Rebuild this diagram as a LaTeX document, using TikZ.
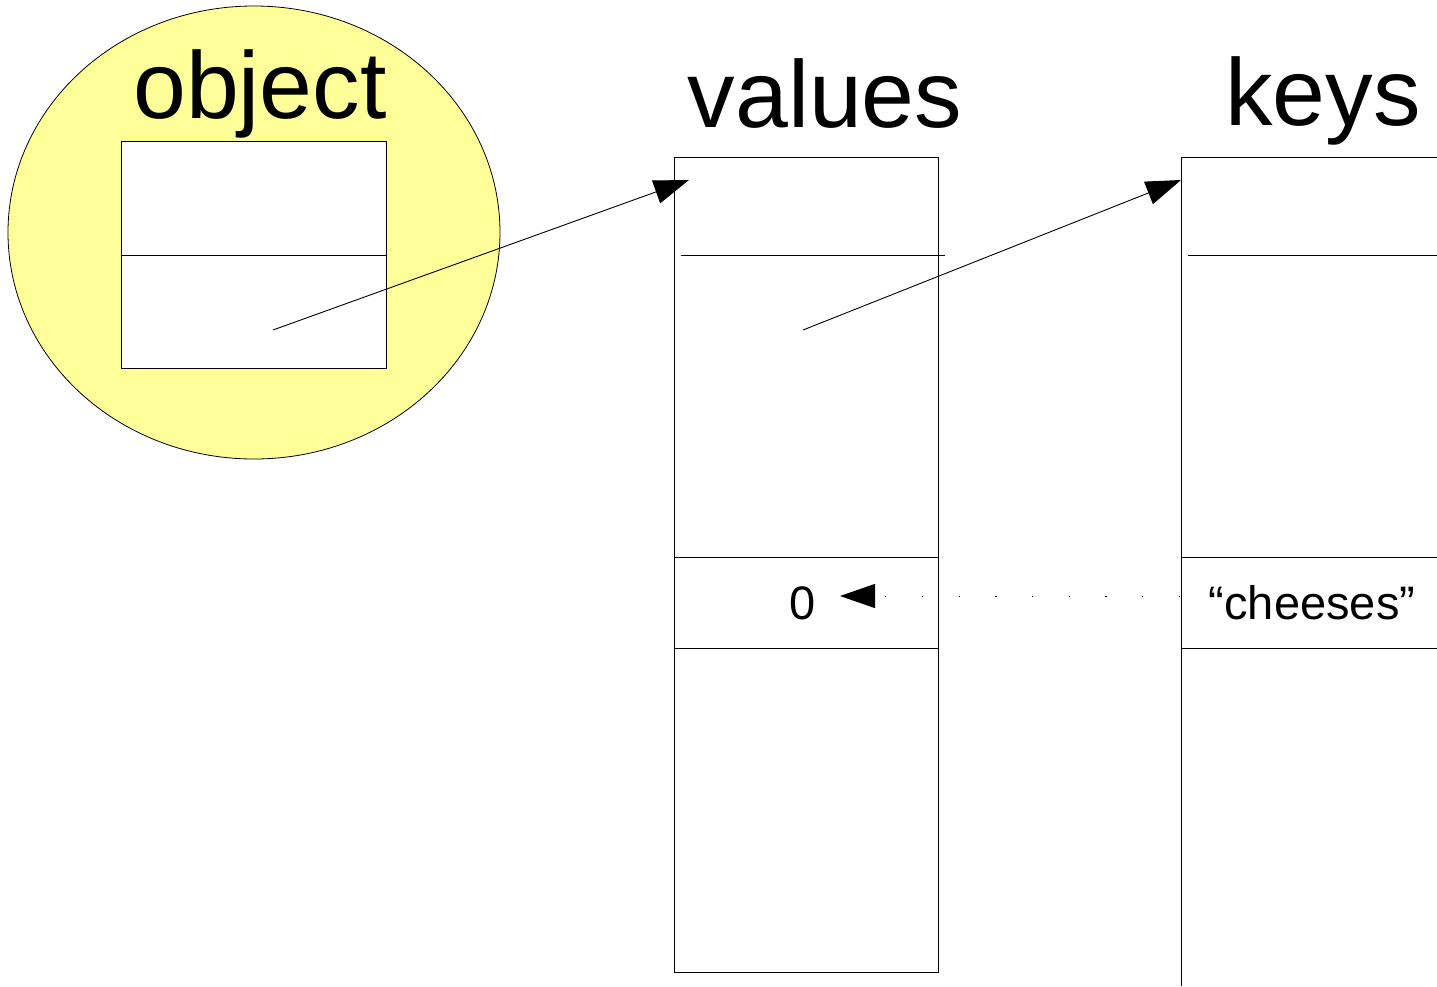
\documentclass[tikz,border=0pt]{standalone}
\usepackage{fontspec}
\setmainfont{Liberation Sans}
\usetikzlibrary{shapes.geometric,arrows.meta}
\definecolor{objyellow}{HTML}{FFFF99}
\begin{document}
\begin{tikzpicture}[x=1pt,y=-1pt,
  thin line/.style={line width=0.9pt, draw=black},
  big label/.style={anchor=base, inner sep=0pt, font=\fontsize{95}{95}\selectfont},
  cell label/.style={anchor=base, inner sep=0pt, font=\fontsize{47}{47}\selectfont},
  pointer/.style={line width=0.9pt, -{Triangle[length=35pt,width=24pt]}},
  lookup/.style={line width=1pt, dash pattern=on 1.2pt off 35.5pt, -{Triangle[length=35pt,width=24pt]}},
  box/.style={thin line, rectangle, inner sep=0pt, fill=white}]
\useasboundingbox (0,0) rectangle (1437,986);
% object
\node[ellipse, draw=black, line width=0.8pt, fill=objyellow, minimum width=492pt, minimum height=453pt, inner sep=0pt] (obj) at (254,232.5) {};
\node[big label] (objlabel) at (260,118) {object};
\node[box, minimum width=265pt, minimum height=227pt] (objbox) at (253.5,254.5) {};
\draw[thin line] (objbox.west |- 0,255) coordinate (od1) -- (objbox.east |- 0,255) coordinate (od2);
% values column
\node[big label] (vallabel) at (825,127) {values};
\node[box, minimum width=264pt, minimum height=815pt] (valcol) at (806,564.5) {};
\coordinate (vd1) at (681,255);
\coordinate (vd2) at (945,255);
\draw[thin line] (vd1) -- (vd2);
\draw[thin line] (valcol.west |- 0,557) -- (valcol.east |- 0,557);
\draw[thin line] (valcol.west |- 0,648) -- (valcol.east |- 0,648);
\node[cell label] (zero) at (803,619) {0};
% keys column
\node[big label] (keylabel) at (1323,125) {keys};
\coordinate (ktop) at (1181,157);
\coordinate (kbot) at (1181,986);
\coordinate (ktopr) at (1437,157);
\draw[thin line] (kbot) -- (ktop) -- (ktopr);
\draw[thin line] (1188,255) coordinate (kd1) -- (1437,255) coordinate (kd2);
\draw[thin line] (1181,557) coordinate (kr1) -- (1437,557) coordinate (kr2);
\draw[thin line] (1181,648) coordinate (ks1) -- (1437,648) coordinate (ks2);
\node[cell label] (cheeses) at (1312,619) {“cheeses”};
% pointers
\coordinate (p1s) at (273,330);
\coordinate (p1e) at (689,180);
\coordinate (p2s) at (803,330);
\coordinate (p2e) at (1181,180);
\draw[pointer] (p1s) -- (p1e);
\draw[pointer] (p2s) -- (p2e);
\coordinate (ls) at (1180,596);
\coordinate (le) at (840,596);
\draw[lookup] (ls) -- (le);
\end{tikzpicture}
\end{document}
